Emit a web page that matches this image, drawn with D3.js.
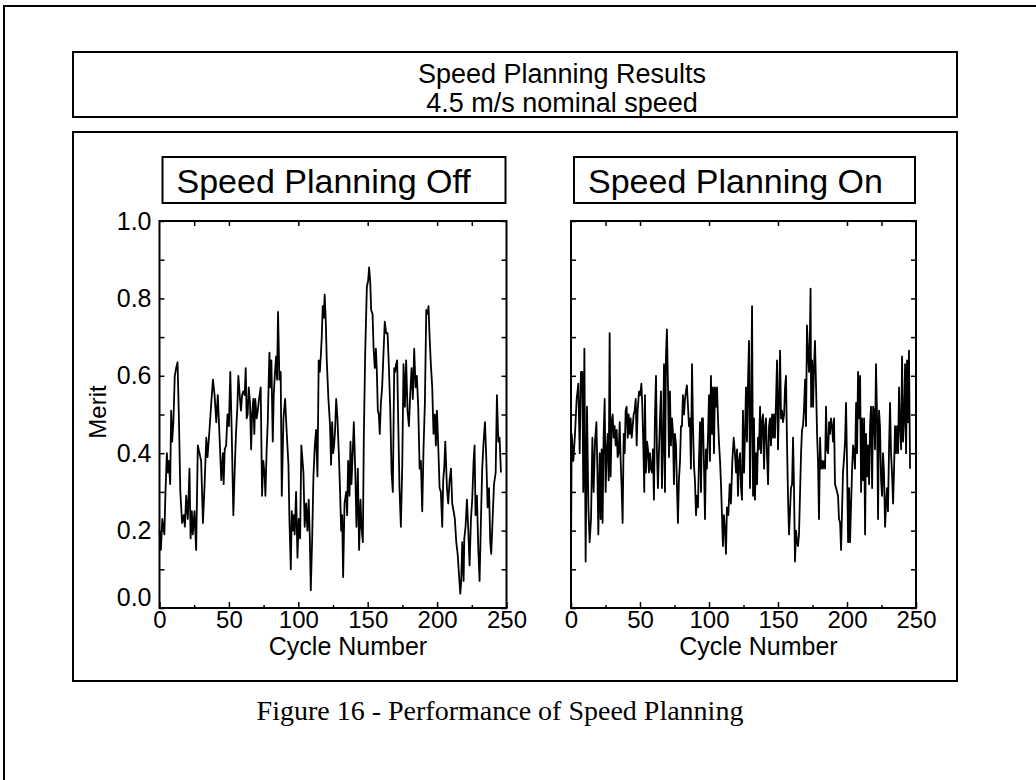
<!DOCTYPE html>
<html>
<head>
<meta charset="utf-8">
<script src="https://cdn.jsdelivr.net/npm/d3@7"></script>
<style>
  body { margin: 0; background: #fff; }
  svg { display: block; }
</style>
</head>
<body>
<svg id="chart" width="1036" height="780"></svg>
<script>
const svg = document.getElementById("chart");

//DATA  (cycle, merit)
const offData = [
  [0,.20],[1,.15],[2,.23],[3.5,.19],[4.3,.30],[5.3,.40],[6,.35],[6.7,.38],[7.7,.32],[8.4,.51],
  [9.1,.43],[10,.48],[11,.60],[12,.62],[13,.635],[14,.49],[15,.30],[16.3,.22],[17.5,.24],[18.3,.21],
  [19.2,.29],[20.4,.23],[21.6,.36],[22.4,.18],[23.3,.25],[24,.19],[25.2,.25],[26.4,.15],[27.6,.42],[28.8,.40],
  [30,.38],[31.3,.22],[32.5,.32],[33.7,.44],[34.6,.39],[36,.46],[37.3,.53],[38.5,.59],[39.7,.55],[40.9,.48],
  [42,.55],[43.3,.44],[44.5,.33],[45.7,.40],[46.2,.32],[47,.41],[48,.42],[49,.50],[50,.47],[51,.61],
  [52,.46],[53.2,.24],[54.4,.38],[55.1,.45],[56.1,.52],[56.8,.60],[58,.54],[58.7,.51],[59.5,.55],[60.4,.56],
  [61.4,.55],[62.1,.62],[62.8,.49],[63.5,.50],[64.3,.57],[65.2,.53],[66,.41],[66.7,.50],[67.6,.54],[68.3,.45],
  [69,.54],[70,.49],[70.8,.51],[71.7,.54],[72.9,.57],[73.9,.29],[74.8,.38],[75.8,.34],[76.3,.29],[77.2,.41],
  [78,.48],[78.7,.59],[79.2,.66],[79.9,.57],[80.6,.64],[81.6,.43],[82.3,.55],[83.2,.61],[84,.65],[84.7,.59],
  [85.4,.765],[86.4,.59],[87.3,.61],[88.1,.29],[89.3,.49],[90.5,.54],[91.7,.45],[92.9,.37],[93.6,.23],[94.6,.10],
  [95.3,.25],[96,.20],[96.7,.24],[97.4,.19],[98.4,.30],[99.4,.13],[100.3,.23],[101.3,.18],[102.2,.42],[103.7,.35],
  [104.6,.21],[105.6,.27],[106.6,.20],[107.5,.28],[108.3,.18],[109,.046],[110,.18],[110.9,.34],[111.9,.42],[112.8,.46],
  [113.8,.34],[114.7,.64],[115.5,.61],[116.2,.65],[116.9,.70],[117.6,.78],[118.4,.75],[119,.81],[119.8,.74],[120.5,.64],
  [121.7,.54],[122.9,.47],[123.6,.37],[124.4,.48],[125.1,.40],[125.8,.42],[126.5,.46],[127.3,.54],[128.2,.49],[129.2,.40],
  [130.1,.30],[130.9,.20],[131.6,.24],[132.3,.08],[133.3,.27],[134.5,.30],[135.2,.24],[135.9,.38],[136.9,.29],[137.6,.43],
  [138.3,.32],[139.3,.41],[140,.48],[141,.36],[141.9,.21],[142.9,.36],[143.8,.15],[144.8,.28],[145.5,.21],[146.5,.17],
  [147.2,.44],[148.2,.66],[149.4,.83],[150.3,.845],[151,.88],[151.8,.845],[152.5,.77],[153.5,.76],[154.2,.675],[155.1,.62],
  [155.9,.67],[156.6,.61],[157.3,.51],[158,.50],[158.7,.45],[159.5,.53],[160.4,.57],[161.4,.66],[162.3,.74],[163.3,.71],
  [164.3,.71],[165.2,.63],[166.2,.52],[167.2,.35],[168.1,.30],[169.1,.62],[169.8,.61],[170.5,.63],[171.2,.64],[172,.48],
  [172.9,.31],[173.9,.21],[174.9,.37],[175.8,.63],[176.8,.52],[177.7,.64],[178.7,.51],[179.7,.47],[180.6,.55],[181.6,.62],
  [182.5,.54],[183.5,.67],[184.5,.57],[185.4,.60],[186.4,.52],[187.4,.36],[188.3,.38],[189.3,.25],[190.2,.41],[191.2,.53],
  [192.2,.77],[193.1,.76],[193.8,.78],[194.6,.70],[195.5,.63],[196.5,.57],[197.4,.45],[198.4,.50],[199.1,.42],[199.9,.51],
  [200.8,.42],[201.8,.31],[202.7,.30],[203.7,.21],[204.4,.33],[205.1,.36],[205.9,.43],[207.1,.31],[208,.27],[209,.33],
  [210,.36],[210.9,.27],[211.9,.25],[212.8,.23],[213.8,.17],[214.8,.14],[215.7,.09],[216.7,.037],[217.4,.07],[218.1,.17],
  [219.1,.07],[219.6,.18],[220.5,.21],[221.5,.28],[222.5,.20],[223.4,.11],[224.4,.23],[225.3,.28],[226.3,.38],[227,.42],
  [227.7,.24],[228.7,.29],[229.7,.15],[230.6,.07],[231.6,.23],[232.5,.36],[233.5,.43],[234.5,.48],[235.4,.39],[236.4,.26],
  [237.4,.31],[238.3,.17],[239,.14],[240,.23],[241,.32],[242.2,.35],[243.1,.55],[244.1,.43],[245,.44],[246,.35]
];

const onData = [
  [0,.13],[0.5,.45],[1.7,.38],[2.9,.45],[4.1,.54],[5.3,.58],[6.3,.40],[7.2,.61],[8.2,.61],[8.9,.30],
  [9.7,.67],[10.6,.12],[11.6,.52],[12.6,.26],[13.5,.17],[14.5,.23],[15.5,.44],[16.4,.30],[17.4,.43],[18.4,.48],
  [19.1,.36],[19.8,.19],[20.8,.40],[21.5,.23],[22.2,.41],[22.9,.22],[23.6,.44],[24.4,.54],[25.1,.30],[25.8,.40],
  [26.6,.45],[27.3,.33],[28,.71],[28.7,.34],[29.5,.48],[30.2,.50],[30.9,.44],[31.6,.47],[32.4,.42],[33.1,.46],
  [33.8,.39],[34.5,.40],[35.3,.48],[36,.38],[36.7,.31],[37.4,.22],[38.2,.45],[38.9,.40],[39.6,.51],[40.3,.52],
  [41.1,.44],[41.8,.50],[42.5,.45],[43.2,.49],[44,.44],[44.7,.47],[45.4,.50],[46.1,.51],[46.9,.54],[47.6,.42],
  [48.3,.51],[49.3,.56],[50.2,.55],[51,.58],[51.7,.52],[52.4,.42],[53.1,.30],[53.6,.55],[54.3,.35],[55.1,.43],
  [55.8,.41],[56.5,.35],[57.2,.40],[57.9,.36],[58.7,.35],[59.4,.41],[60.1,.28],[60.8,.49],[61.6,.60],[62.3,.40],
  [63,.31],[63.7,.40],[64.5,.49],[65.2,.56],[65.9,.31],[66.6,.41],[67.4,.63],[68.1,.30],[68.8,.65],[69.5,.72],
  [70.3,.57],[71,.39],[71.7,.56],[72.4,.42],[73.2,.49],[73.9,.45],[74.6,.32],[75.3,.45],[76.1,.42],[76.8,.31],
  [77.5,.22],[78.2,.33],[79,.38],[79.7,.47],[80.4,.47],[81.1,.55],[81.9,.50],[82.6,.54],[83.3,.56],[84,.575],
  [84.8,.52],[85.5,.47],[86.2,.49],[86.9,.36],[87.7,.63],[88.4,.47],[89.1,.37],[89.8,.33],[90.6,.24],[91.3,.29],
  [92,.26],[92.7,.38],[93.5,.48],[94.2,.30],[94.9,.49],[95.6,.49],[96.4,.36],[97.1,.23],[97.8,.41],[98.5,.36],
  [99.3,.45],[100,.55],[100.7,.38],[101.4,.60],[102.2,.45],[102.9,.57],[103.6,.40],[104.3,.57],[105.1,.52],[105.8,.57],
  [106.5,.49],[107.2,.43],[108,.38],[108.7,.32],[109.4,.24],[110.1,.16],[110.8,.24],[111.6,.20],[112.3,.14],[113,.26],
  [114,.24],[115,.32],[115.9,.27],[116.9,.38],[117.9,.44],[118.8,.40],[119.6,.35],[120.3,.41],[121,.29],[121.7,.38],
  [122.5,.40],[123.2,.31],[123.9,.28],[124.6,.51],[125.4,.35],[126.1,.45],[126.8,.57],[127.5,.43],[128.3,.59],[129,.69],
  [129.7,.31],[130.4,.48],[131.2,.78],[131.9,.29],[132.6,.49],[133.3,.28],[134.1,.40],[134.8,.32],[135.5,.44],[136.2,.41],
  [137,.52],[137.7,.40],[138.4,.48],[139.1,.50],[139.9,.36],[140.6,.47],[141.3,.49],[142,.40],[142.8,.32],[143.5,.47],
  [144.2,.49],[144.9,.42],[145.7,.50],[146.4,.44],[147.1,.50],[147.8,.44],[148.6,.54],[149.3,.64],[150,.41],[150.7,.52],
  [151.5,.665],[152.2,.49],[152.9,.51],[153.6,.48],[154.4,.50],[155.1,.57],[155.8,.60],[156.5,.43],[157.3,.28],[158,.19],
  [158.7,.25],[159.4,.31],[160.2,.32],[160.9,.44],[161.6,.31],[162.3,.12],[163.1,.20],[163.8,.17],[164.5,.16],[165.2,.19],
  [166,.30],[166.7,.40],[167.4,.46],[168.1,.47],[168.8,.51],[169.6,.59],[170.3,.47],[171,.73],[171.7,.66],[172.5,.61],
  [173.2,.73],[173.6,.825],[174,.52],[174.7,.64],[175.4,.52],[176.1,.62],[176.8,.69],[177.6,.57],[178.3,.45],[179,.38],
  [179.7,.23],[180.5,.44],[181.2,.36],[181.9,.38],[182.6,.36],[183.4,.38],[184.1,.36],[184.8,.52],[185.5,.41],[186.3,.40],
  [187,.48],[187.7,.45],[188.4,.49],[189.2,.47],[189.9,.43],[190.6,.49],[191.3,.32],[192.1,.31],[192.8,.30],[193.5,.29],
  [194.2,.23],[195,.22],[195.7,.15],[196.4,.25],[197.1,.35],[197.9,.39],[198.6,.43],[199.3,.53],[200,.38],[200.8,.17],
  [201.5,.31],[202.2,.17],[202.9,.26],[203.7,.36],[204.4,.42],[205.1,.40],[205.8,.36],[206.6,.53],[207.3,.40],[208,.61],
  [208.7,.49],[209.5,.60],[210.2,.30],[210.9,.49],[211.6,.33],[212.4,.49],[213.1,.19],[213.8,.45],[214.5,.34],[215.3,.42],
  [216,.32],[216.7,.47],[217.4,.52],[218.2,.31],[218.9,.52],[219.6,.51],[220.3,.41],[221,.63],[221.8,.49],[222.5,.23],
  [223.2,.51],[223.9,.47],[224.7,.33],[225.4,.29],[226.1,.40],[226.8,.35],[227.6,.21],[228.3,.27],[229,.31],[229.7,.25],
  [230.5,.42],[231.2,.53],[231.9,.40],[232.6,.35],[233.4,.27],[234.1,.36],[234.8,.47],[235.5,.40],[236.3,.47],[237,.40],
  [237.7,.57],[238.4,.47],[239.2,.41],[239.9,.65],[240.6,.43],[241.3,.48],[242.1,.63],[242.8,.40],[243.5,.64],[244.2,.48],
  [244.9,.665],[245.7,.36]
];

const mainTitle = ["Speed Planning Results", "4.5 m/s nominal speed"];
const panelTitles = ["Speed Planning Off", "Speed Planning On"];
const xMajor = [0, 50, 100, 150, 200, 250];
const xMinor = [25, 75, 125, 175, 225];
const xTop = [25, 50, 100, 150, 200, 225];
const yMajor = [0, 0.2, 0.4, 0.6, 0.8, 1.0];
const yAll = [0, 0.1, 0.2, 0.3, 0.4, 0.5, 0.6, 0.7, 0.8, 0.9, 1.0];
const xLabel = "Cycle Number";
const yLabel = "Merit";
const caption = "Figure 16 - Performance of Speed Planning";

//CONSTANTS
const sans = "'Liberation Sans', Arial, Helvetica, sans-serif";
const serif = "'Liberation Serif', 'Times New Roman', serif";
const plotTop = 221;
const plotBottom = 608;
const panels = [
  { left: 159.5, right: 506.5, data: offData, title: panelTitles[0], labels: true },
  { left: 571, right: 916, data: onData, title: panelTitles[1], labels: false },
];

const y = d3.scaleLinear().domain([0, 1]).range([plotBottom, plotTop]);

function box(x, yy, w, h, sw) {
  d3.select(svg)
    .append("rect")
    .attr("x", x)
    .attr("y", yy)
    .attr("width", w)
    .attr("height", h)
    .attr("fill", "none")
    .attr("stroke", "black")
    .attr("stroke-width", sw);
}

function label(txt, x, yy, size, anchor, family) {
  return d3.select(svg)
    .append("text")
    .attr("x", x)
    .attr("y", yy)
    .attr("font-family", family || sans)
    .attr("font-size", size)
    .attr("text-anchor", anchor)
    .attr("fill", "black")
    .text(txt);
}

function cleanAxis(g) {
  g.select(".domain").remove();
  g.selectAll("line").attr("stroke", "black").attr("stroke-width", 1.5);
}

//FRAMES & TITLES
box(4, 6, 1100, 900, 2);
box(73, 52, 884, 65, 2);
label(mainTitle[0], 562, 83, 27, "middle");
label(mainTitle[1], 562, 112, 27, "middle");
box(73, 132, 884, 549, 2);

//PANELS
function drawPanel(p) {
  const x = d3.scaleLinear().domain([0, 250]).range([p.left, p.right]);

  // title box
  box(p.left + 3, 157, p.right - p.left - 4, 46, 2);
  label(p.title, p.left + 17, 193, 34, "start");

  // bottom axis, labelled
  const gB = d3.select(svg).append("g")
    .attr("transform", `translate(0,${plotBottom})`)
    .call(d3.axisBottom(x).tickValues(xMajor).tickSize(-6).tickPadding(3).tickFormat(d3.format("d")));
  cleanAxis(gB);
  gB.selectAll("text")
    .attr("font-family", sans)
    .attr("font-size", 24)
    .attr("fill", "black");

  const gBm = d3.select(svg).append("g")
    .attr("transform", `translate(0,${plotBottom})`)
    .call(d3.axisBottom(x).tickValues(xMinor).tickSize(-3).tickFormat(""));
  cleanAxis(gBm);

  const gT = d3.select(svg).append("g")
    .attr("transform", `translate(0,${plotTop})`)
    .call(d3.axisTop(x).tickValues(xTop).tickSize(-5).tickFormat(""));
  cleanAxis(gT);

  // left axis
  const gL = d3.select(svg).append("g")
    .attr("transform", `translate(${p.left},0)`)
    .call(d3.axisLeft(y).tickValues(yAll).tickSize(-5).tickPadding(8)
      .tickFormat((d) => (p.labels && yMajor.some((v) => Math.abs(v - d) < 1e-6)) ? d3.format(".1f")(d) : ""));
  cleanAxis(gL);
  gL.selectAll("text")
    .attr("font-family", sans)
    .attr("font-size", 25)
    .attr("fill", "black");
  gL.selectAll(".tick")
    .filter((d) => d === 0)
    .select("text")
    .attr("dy", "-0.1em");

  const gR = d3.select(svg).append("g")
    .attr("transform", `translate(${p.right},0)`)
    .call(d3.axisRight(y).tickValues(yAll).tickSize(-5).tickFormat(""));
  cleanAxis(gR);

  // data line
  const line = d3.line()
    .x((d) => x(d[0]))
    .y((d) => y(d[1]));

  d3.select(svg)
    .append("path")
    .datum(p.data)
    .attr("d", line)
    .attr("fill", "none")
    .attr("stroke", "black")
    .attr("stroke-width", 1.8)
    .attr("stroke-linejoin", "round");

  // plot frame
  box(p.left, plotTop, p.right - p.left, plotBottom - plotTop, 2);

  label(xLabel, (p.left + p.right) / 2 + 15, 655, 25, "middle");
}

panels.forEach(drawPanel);

label(yLabel, 0, 0, 24, "middle")
  .attr("transform", "translate(106,412) rotate(-90)");

label(caption, 500, 720, 28, "middle", serif);
</script>
</body>
</html>
